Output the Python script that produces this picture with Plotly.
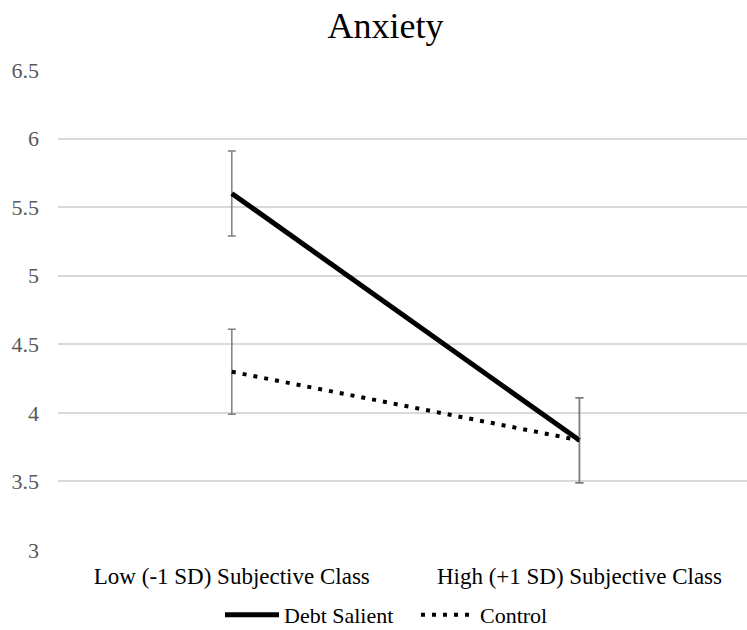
import plotly.graph_objects as go

categories = ["Low (-1 SD) Subjective Class", "High (+1 SD) Subjective Class"]
debt_salient = [5.6, 3.8]
control = [4.3, 3.8]
debt_err = [0.31, 0.31]
control_err = [0.31, 0.31]
y_ticks = [3, 3.5, 4, 4.5, 5, 5.5, 6, 6.5]
y_tick_labels = ["3", "3.5", "4", "4.5", "5", "5.5", "6", "6.5"]

FONT = "'Liberation Serif', 'Times New Roman', Times, serif"
err_style = dict(type="data", visible=True, color="#7f7f7f", thickness=1.5, width=4)

fig = go.Figure()
fig.add_trace(go.Scatter(
    x=categories, y=debt_salient, name="Debt Salient", mode="lines",
    line=dict(color="black", width=5),
    error_y=dict(array=debt_err, **err_style),
))
fig.add_trace(go.Scatter(
    x=categories, y=control, name="Control", mode="lines",
    line=dict(color="black", width=4, dash="4px,7px"),
    error_y=dict(array=control_err, **err_style),
))

fig.update_layout(
    width=747, height=630,
    margin=dict(l=58, r=0, t=70, b=80, autoexpand=False),
    paper_bgcolor="white", plot_bgcolor="white",
    title=dict(text="Anxiety", x=0.516, xanchor="center", y=0.96, yanchor="middle",
               font=dict(family=FONT, size=36, color="black")),
    font=dict(family=FONT, color="black"),
    showlegend=True,
    legend=dict(orientation="h", xref="container", yref="container",
                x=0.2945, xanchor="left", y=0.024, yanchor="middle",
                font=dict(family=FONT, size=22, color="black"),
                itemwidth=54, entrywidth=127, entrywidthmode="pixels",
                traceorder="normal"),
    xaxis=dict(type="category", range=[-0.5, 1.482], showgrid=False,
               showline=False, zeroline=False, ticks="",
               ticklabelstandoff=10, automargin=False,
               tickfont=dict(family=FONT, size=23, color="black")),
    yaxis=dict(range=[3, 6.5], tickvals=y_ticks, ticktext=y_tick_labels,
               showgrid=True, gridcolor="#d9d9d9", gridwidth=1.5,
               zeroline=False, showline=False, ticks="",
               ticklabelstandoff=18, automargin=False,
               tickfont=dict(family=FONT, size=22, color="#595959")),
)

fig.write_html("out.html", config={"displayModeBar": False},
               post_script="document.body.style.margin='0';")
